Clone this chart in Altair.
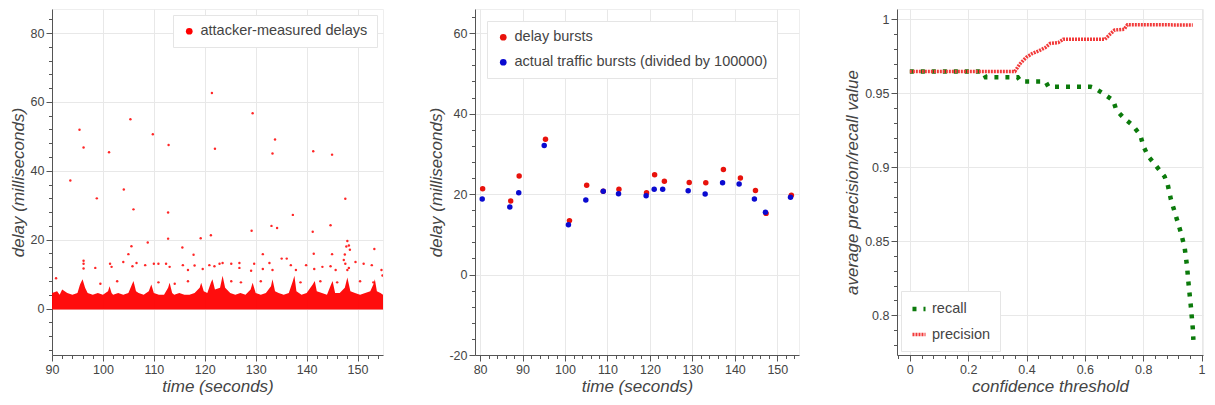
import altair as alt
import pandas as pd
import numpy as np

# ---------------- Panel 1: attacker-measured delays ----------------
band_t = [90, 91, 91.5, 92, 93, 94, 95, 95.5, 96, 96.5, 97, 98, 99, 100, 101, 101.3, 101.7, 102, 103, 104,
          105, 105.7, 106, 106.5, 107, 108, 109, 109.5, 110, 111, 112, 112.8, 113.1, 113.6, 114, 115, 116,
          117, 118, 119, 119.3, 119.8, 120.5, 121.2, 121.5, 122, 123, 123.5, 124, 125, 126, 127, 128, 129,
          129.4, 130, 131, 132, 133, 133.3, 133.8, 134.5, 135.5, 136.5, 137.3, 137.6, 138, 139, 140, 141.2,
          141.6, 142, 143, 144, 144.8, 145.1, 145.6, 146.5, 147.5, 148, 148.6, 149.5, 150.5, 151.5, 152.5,
          153.1, 153.4, 153.8, 154.5, 155]
band_top = [4.5, 5, 4, 5.5, 4.5, 4, 4.5, 7, 8.5, 6, 4.5, 4, 4.5, 4, 5, 6.5, 4.5, 4, 4.5, 4,
            4.5, 7, 8, 5, 4.5, 4, 5, 7, 4.5, 4, 4, 6, 7.5, 4.5, 4, 4.5, 4,
            4, 4.5, 6, 7.5, 5, 4.5, 7.5, 8.5, 5.5, 6, 9.5, 6, 4.5, 4, 4.5, 4, 5.5,
            7.5, 4.5, 4, 4.5, 6.5, 8.5, 5, 4.5, 4, 4.5, 8, 9.5, 5, 4, 4.5, 7,
            8, 5, 4.5, 4, 7, 8, 4.5, 4.5, 6, 9, 5, 4.5, 4, 4.5, 5,
            7, 8.5, 5, 4.5, 4]

outlier_t = [93.6, 95.4, 96.2, 98.8, 101.2, 104.1, 105.4, 106.0, 109.8, 112.9, 112.8, 121.4, 122.0, 121.2,
             129.4, 129.2, 133.8, 133.3, 133.1, 134.2, 137.3, 141.3, 141.2, 145.0, 144.7, 147.6, 153.3,
             119.2, 112.8, 108.8, 105.6, 105.0, 115.6, 117.8, 131.4, 148.0, 141.4, 145.0, 135.1, 154.9,
             90.8, 96.2, 96.2, 96.2, 98.5, 101.4, 101.7, 104.0, 105.8, 106.6, 108.3, 110.0, 110.9, 112.4,
             113.1, 115.7, 116.7, 118.0, 119.6, 120.9, 121.9, 122.9, 123.5, 125.2, 126.8, 126.8, 129.1,
             129.7, 131.4, 132.7, 133.3, 136.1, 136.9, 137.9, 139.9, 141.5, 143.1, 144.7, 145.7, 147.3,
             147.6, 148.3, 148.0, 149.6, 151.2, 152.8, 154.7, 147.8, 147.5, 148.3, 148.5,
             99.5, 102.8, 110.9, 114.1, 116.7, 125.2, 127.1, 131.0, 138.8, 142.7, 146.0, 150.5, 153.1]
outlier_d = [37.2, 51.9, 46.8, 32.0, 45.4, 34.6, 55.0, 28.8, 50.6, 47.5, 27.9, 62.6, 46.4, 21.3,
             56.7, 22.6, 49.1, 45.0, 24.0, 23.4, 27.2, 45.7, 22.3, 44.7, 24.2, 31.9, 17.3,
             20.4, 20.3, 19.2, 18.1, 15.8, 17.7, 15.6, 15.8, 19.6, 15.9, 15.8, 14.5, 9.6,
             8.8, 13.9, 13.0, 11.6, 11.8, 13.0, 12.1, 13.5, 12.3, 13.2, 12.6, 13.0, 13.0, 13.0,
             12.1, 12.6, 11.2, 12.5, 11.5, 12.6, 12.3, 13.0, 13.2, 13.0, 13.2, 11.8, 11.0,
             13.0, 11.5, 13.2, 11.2, 14.5, 12.6, 11.2, 12.6, 11.5, 12.1, 12.3, 11.2, 14.1,
             13.0, 11.8, 11.2, 13.5, 13.0, 12.6, 11.2, 18.0, 15.7, 18.3, 17.1,
             7.2, 7.9, 7.6, 7.2, 7.9, 7.9, 7.6, 7.9, 7.6, 7.9, 7.6, 7.9, 7.6]

# ---------------- Panel 2: bursts ----------------
delay_t = [80.6, 87.2, 89.2, 95.4, 101.05, 105.1, 109.0, 112.7, 119.2, 121.1, 123.4, 129.25, 133.15,
           137.3, 141.3, 144.85, 147.35, 153.3]
delay_d = [21.3, 18.3, 24.5, 33.6, 13.4, 22.2, 20.7, 21.2, 20.3, 24.8, 23.2, 22.9, 22.8, 26.1, 24.0,
           20.9, 15.2, 19.7]
traffic_t = [80.5, 87.0, 89.1, 95.1, 100.8, 104.9, 109.0, 112.6, 119.1, 121.0, 123.0, 129.0, 133.0,
             137.1, 141.0, 144.6, 147.2, 153.1]
traffic_d = [18.8, 16.8, 20.3, 32.1, 12.4, 18.5, 20.7, 20.1, 19.6, 21.2, 21.2, 20.8, 20.0, 22.8, 22.5,
             18.8, 15.5, 19.2]

# ---------------- Panel 3: precision / recall ----------------
recall_x = [0.0, 0.25, 0.26, 0.37, 0.38, 0.465, 0.475, 0.62, 0.631, 0.664, 0.697, 0.708, 0.735, 0.763,
            0.790, 0.801, 0.818, 0.846, 0.873, 0.884, 0.895, 0.912, 0.929, 0.942, 0.950, 0.956, 0.963,
            0.970, 0.972]
recall_v = [0.9647, 0.9647, 0.9609, 0.9609, 0.958, 0.958, 0.9544, 0.9544, 0.9538, 0.9497, 0.9453,
            0.9386, 0.933, 0.9285, 0.9218, 0.914, 0.9072, 0.9005, 0.8938, 0.8883, 0.8782, 0.867,
            0.8559, 0.8458, 0.8335, 0.8201, 0.8067, 0.7911, 0.7833]
precision_x = [0.0, 0.36, 0.377, 0.399, 0.421, 0.443, 0.465, 0.481, 0.509, 0.526, 0.669, 0.686, 0.702,
               0.735, 0.746, 0.970]
precision_v = [0.9647, 0.9647, 0.9698, 0.9743, 0.977, 0.9788, 0.981, 0.9837, 0.9843, 0.9865, 0.9865,
               0.9899, 0.9928, 0.9933, 0.9964, 0.9962]

# ---------------- tick definitions ----------------
p1_x_major = [90, 100, 110, 120, 130, 140, 150]
p1_y_major = [0, 20, 40, 60, 80]
p2_x_major = [80, 90, 100, 110, 120, 130, 140, 150]
p2_y_major = [-20, 0, 20, 40, 60]
p3_x_major = [0, 0.2, 0.4, 0.6, 0.8, 1]
p3_y_major = [0.8, 0.85, 0.9, 0.95, 1]

TXT = "#444444"
FONT = "Liberation Sans"


def make_axis(title, major, step, lo, hi, title_pad):
    minor = [round(v, 4) for v in np.arange(lo, hi + step / 2, step)]
    vals = sorted(set([round(v, 4) for v in major] + minor))
    test = "indexof([" + ",".join(str(v) for v in major) + "], datum.value) >= 0"
    return alt.Axis(
        title=title,
        values=vals,
        labelExpr=test + " ? '' + datum.value : ''",
        tickSize={"condition": {"test": test, "value": 6}, "value": 3.5},
        gridOpacity={"condition": {"test": test, "value": 1}, "value": 0},
        labelOverlap=False,
        labelFlush=False,
        titlePadding=title_pad,
    )


W1, W2, W3, H = 331, 324, 306, 346

# Panel 1
band_df = pd.DataFrame({"t": band_t, "d": band_top})
out_df = pd.DataFrame({"t": outlier_t, "d": outlier_d, "series": "attacker-measured delays"})

x1 = alt.X("t:Q", scale=alt.Scale(domain=[90, 155], nice=False, zero=False),
           axis=make_axis("time (seconds)", p1_x_major, 2, 90, 154, 3))
y1 = alt.Y("d:Q", scale=alt.Scale(domain=[-13.5, 87], nice=False, zero=False),
           axis=make_axis("delay (milliseconds)", p1_y_major, 4, -12, 84, 3))

band = alt.Chart(band_df).mark_area(color="#ff0000", opacity=0.95, clip=True).encode(
    x=x1, y=y1, y2=alt.Y2(datum=-0.3))
pts1 = alt.Chart(out_df).mark_circle(size=6, opacity=0.85, clip=True).encode(
    x=x1, y=y1,
    color=alt.Color("series:N", scale=alt.Scale(domain=["attacker-measured delays"], range=["#ff0000"]),
                    legend=alt.Legend(title=None, orient="top-right", offset=6, symbolSize=45,
                                      symbolType="circle", symbolOpacity=1, padding=9,
                                      strokeColor="#e5e5e5", fillColor="white",
                                      labelFontSize=14.5, labelColor=TXT, labelFont=FONT,
                                      labelLimit=400)))
panel1 = alt.layer(band, pts1).properties(width=W1, height=H)

# Panel 2
p2_df = pd.DataFrame({
    "t": delay_t + traffic_t,
    "d": delay_d + traffic_d,
    "series": ["delay bursts"] * len(delay_t) + ["actual traffic bursts (divided by 100000)"] * len(traffic_t),
})
panel2 = alt.Chart(p2_df).mark_circle(size=30, opacity=1).encode(
    x=alt.X("t:Q", scale=alt.Scale(domain=[78.8, 155.1], nice=False, zero=False),
            axis=make_axis("time (seconds)", p2_x_major, 2, 80, 154, 3)),
    y=alt.Y("d:Q", scale=alt.Scale(domain=[-20, 66], nice=False, zero=False),
            axis=make_axis("delay (milliseconds)", p2_y_major, 4, -20, 64, 3)),
    color=alt.Color("series:N",
                    scale=alt.Scale(domain=["delay bursts", "actual traffic bursts (divided by 100000)"],
                                    range=["#e8120c", "#0a0ad0"]),
                    legend=alt.Legend(title=None, orient="top-left", offset=12, symbolSize=45,
                                      symbolType="circle", symbolOpacity=1, padding=9, rowPadding=10,
                                      strokeColor="#e5e5e5", fillColor="white",
                                      labelFontSize=14.5, labelColor=TXT, labelFont=FONT,
                                      labelLimit=400)),
    order=alt.Order("series:N", sort="descending"),
).properties(width=W2, height=H)

# Panel 3
p3_df = pd.DataFrame({
    "x": recall_x + precision_x,
    "v": recall_v + precision_v,
    "series": ["recall"] * len(recall_x) + ["precision"] * len(precision_x),
})
leg3 = alt.Legend(title=None, orient="bottom-left", offset=4, symbolType="stroke", symbolSize=170,
                  symbolStrokeWidth=4, padding=9, rowPadding=8, strokeColor="#e5e5e5", fillColor="white",
                  labelFontSize=14.5, labelColor=TXT, labelFont=FONT)
panel3 = alt.Chart(p3_df).mark_line(clip=True).encode(
    x=alt.X("x:Q", scale=alt.Scale(domain=[-0.044, 1.005], nice=False, zero=False),
            axis=make_axis("confidence threshold", p3_x_major, 0.04, -0.04, 1.0, 3)),
    y=alt.Y("v:Q", scale=alt.Scale(domain=[0.773, 1.007], nice=False, zero=False),
            axis=make_axis("average precision/recall value", p3_y_major, 0.01, 0.78, 1.0, 3)),
    color=alt.Color("series:N", scale=alt.Scale(domain=["recall", "precision"], range=["#0b7a0b", "#f23a3a"]),
                    legend=leg3),
    strokeDash=alt.StrokeDash("series:N", scale=alt.Scale(domain=["recall", "precision"],
                                                          range=[[4, 7], [2, 1]]), legend=leg3),
    strokeWidth=alt.StrokeWidth("series:N", scale=alt.Scale(domain=["recall", "precision"], range=[4.5, 3.5]),
                                legend=leg3),
).properties(width=W3, height=H)

chart = alt.hconcat(panel1, panel2, panel3, spacing=43).resolve_scale(
    color="independent", strokeDash="independent", strokeWidth="independent",
    x="independent", y="independent",
).resolve_legend(
    color="independent", strokeDash="independent", strokeWidth="independent",
).configure(
    padding={"left": 0, "top": 0, "right": 0, "bottom": 0},
).configure_axis(
    labelFont=FONT, labelFontSize=12.5, labelColor=TXT, labelPadding=2,
    titleFont=FONT, titleFontSize=17, titleFontStyle="italic", titleFontWeight="normal", titleColor=TXT,
    domainColor="#555555", tickColor="#555555", gridColor="#e8e8e8",
).configure_view(stroke="#eeeeee")

chart.save("out.html", embed_options={"renderer": "svg", "actions": False})
